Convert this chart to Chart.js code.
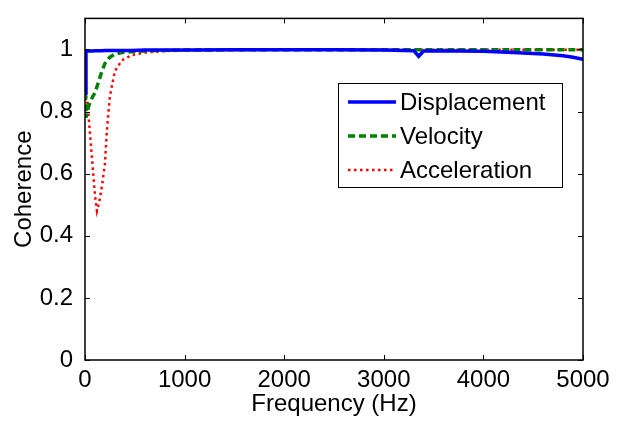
<!DOCTYPE html>
<html>
<head>
<meta charset="utf-8">
<script src="https://cdn.jsdelivr.net/npm/chart.js@4.4.0/dist/chart.umd.min.js"></script>
<style>
  html, body { margin: 0; padding: 0; background: #fff; }
  #wrap { width: 621px; height: 423px; }
</style>
</head>
<body>
<div id="wrap"><canvas id="cohChart" width="621" height="423"></canvas></div>
<script>
// frequency samples (Hz)
const freqHz = [0, 10, 20, 30, 50, 80, 100, 120, 150, 170, 200, 220, 250, 300, 370, 470, 600, 800, 1000, 1500, 2000, 2500, 3000, 3300, 3350, 3400, 3500, 4000, 4300, 4600, 4800, 4900, 5000];

const displacement = [0.86, 0.99, 0.995, 0.995, 0.995, 0.995, 0.996, 0.996, 0.996, 0.996, 0.997, 0.997, 0.997, 0.997, 0.997, 0.997, 0.998, 0.998, 0.998, 0.999, 0.999, 0.999, 0.998, 0.996, 0.978, 0.995, 0.996, 0.994, 0.99, 0.985, 0.98, 0.975, 0.968];
const velocity = [0.93, 0.78, 0.8, 0.81, 0.83, 0.85, 0.86, 0.88, 0.91, 0.93, 0.955, 0.965, 0.975, 0.985, 0.99, 0.993, 0.995, 0.997, 0.998, 0.999, 0.999, 0.999, 0.999, 0.999, 0.999, 0.999, 0.999, 0.999, 0.999, 0.999, 0.999, 0.999, 0.999];
const acceleration = [0.87, 0.85, 0.84, 0.81, 0.73, 0.61, 0.53, 0.48, 0.52, 0.56, 0.63, 0.74, 0.85, 0.93, 0.965, 0.982, 0.99, 0.995, 0.997, 0.998, 0.999, 0.999, 0.999, 0.999, 0.999, 0.999, 0.999, 0.999, 0.999, 0.999, 0.999, 0.999, 0.999];

const seriesNames = ['Displacement', 'Velocity', 'Acceleration'];
const xTicks = [0, 1000, 2000, 3000, 4000, 5000];
const yTicks = [0, 0.2, 0.4, 0.6, 0.8, 1];

const FONT = 'Liberation Sans, Arial, sans-serif';

function toPoints(vals) {
    return freqHz.map((f, i) => ({ x: f, y: vals[i] }));
}

// box + inward ticks, MATLAB style
const boxPlugin = {
    id: 'boxPlugin',
    afterDraw(chart) {
        const { ctx, chartArea: a, scales } = chart;
        ctx.save();
        ctx.strokeStyle = '#000';
        ctx.lineWidth = 1.5;
        ctx.strokeRect(a.left, a.top, a.right - a.left, a.bottom - a.top);
        ctx.lineWidth = 1;
        ctx.beginPath();
        xTicks.forEach(v => {
            const px = Math.round(scales.x.getPixelForValue(v)) + 0.5;
            ctx.moveTo(px, a.bottom); ctx.lineTo(px, a.bottom - 5);
            ctx.moveTo(px, a.top); ctx.lineTo(px, a.top + 5);
        });
        yTicks.forEach(v => {
            const py = Math.round(scales.y.getPixelForValue(v)) + 0.5;
            ctx.moveTo(a.left, py); ctx.lineTo(a.left + 5, py);
            ctx.moveTo(a.right, py); ctx.lineTo(a.right - 5, py);
        });
        ctx.stroke();

        // legend box
        const lx = 338, ly = 83, lw = 224, lh = 104;
        ctx.fillStyle = '#fff';
        ctx.fillRect(lx, ly, lw, lh);
        ctx.lineWidth = 1;
        ctx.strokeRect(lx + 0.5, ly + 0.5, lw, lh);
        ctx.font = '24px ' + FONT;
        ctx.textBaseline = 'middle';
        chart.data.datasets.forEach((ds, i) => {
            const y = ly + 19 + i * 34;
            ctx.strokeStyle = ds.borderColor;
            ctx.lineWidth = ds.borderWidth;
            ctx.setLineDash(ds.borderDash || []);
            ctx.beginPath();
            ctx.moveTo(lx + 10, y); ctx.lineTo(lx + 58, y);
            ctx.stroke();
            ctx.setLineDash([]);
            ctx.fillStyle = '#000';
            ctx.fillText(ds.label, lx + 62, y + 1);
        });
        ctx.restore();
    }
};

const ctx = document.getElementById('cohChart').getContext('2d');
const cohChart = new Chart(ctx, {
    type: 'line',
    data: {
        datasets: [{
            label: seriesNames[0],
            data: toPoints(displacement),
            borderColor: '#0000ff',
            borderWidth: 3.5,
            pointRadius: 0,
            tension: 0,
            fill: false
        }, {
            label: seriesNames[1],
            data: toPoints(velocity),
            borderColor: '#008000',
            borderWidth: 3.5,
            borderDash: [7, 4],
            pointRadius: 0,
            tension: 0,
            fill: false
        }, {
            label: seriesNames[2],
            data: toPoints(acceleration),
            borderColor: '#ff0000',
            borderWidth: 2.5,
            borderDash: [2.5, 3.5],
            pointRadius: 0,
            tension: 0,
            fill: false
        }]
    },
    options: {
        responsive: false,
        animation: false,
        layout: { padding: { top: 10, right: 38, left: 0, bottom: 0 } },
        plugins: {
            legend: { display: false },
            tooltip: { enabled: false }
        },
        scales: {
            x: {
                type: 'linear',
                min: 0,
                max: 5000,
                afterBuildTicks: s => { s.ticks = xTicks.map(v => ({ value: v })); },
                afterFit: s => { s.height = 63; },
                grid: { display: false },
                border: { display: false },
                ticks: { color: '#000', font: { size: 24, family: FONT }, padding: -2, maxRotation: 0, callback: v => String(v) },
                title: { display: true, text: 'Frequency (Hz)', color: '#000', font: { size: 24, family: FONT }, padding: { top: 0, bottom: 4 } }
            },
            y: {
                min: 0,
                max: 1.1,
                afterBuildTicks: s => { s.ticks = yTicks.map(v => ({ value: v })); },
                afterFit: s => { s.width = 85; },
                grid: { display: false },
                border: { display: false },
                ticks: { color: '#000', font: { size: 24, family: FONT }, padding: 4, callback: v => String(Math.round(v * 10) / 10) },
                title: { display: true, text: 'Coherence', color: '#000', font: { size: 24, family: FONT }, padding: { top: 10, bottom: 0 } }
            }
        }
    },
    plugins: [boxPlugin]
});
</script>
</body>
</html>
